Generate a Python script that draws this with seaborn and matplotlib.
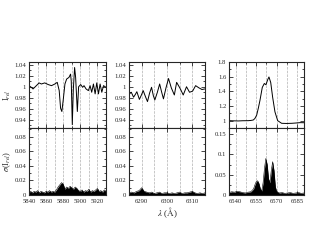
import numpy as np
import pandas as pd
import matplotlib
matplotlib.use("Agg")
import matplotlib.pyplot as plt
from matplotlib.ticker import MultipleLocator, FuncFormatter
import seaborn as sns

# ---------------- data ----------------
# Panel 1 : He I 5876 / Na D region
wl1 = [5840, 5842.7, 5844.7, 5848.6, 5851.8, 5854.5, 5858.4, 5862.4, 5866.3, 5870.2,
       5873.0, 5875.3, 5876.9, 5878.4, 5880.0, 5882.0, 5884.0, 5886.7, 5888.6, 5889.4,
       5890.6, 5891.8, 5893.3, 5894.5, 5896.5, 5898.0, 5900.4, 5902.7, 5904.3, 5906.7,
       5909.4, 5911.4, 5913.3, 5915.3, 5917.3, 5919.2, 5921.2, 5923.1, 5925.1, 5927.1, 5930]
flux1 = [1.002, 0.999, 0.996, 1.002, 1.007, 1.005, 1.007, 1.004, 1.002, 1.005,
         1.008, 0.993, 0.961, 0.955, 0.976, 1.005, 1.014, 1.017, 1.023, 1.010,
         0.931, 0.995, 1.035, 1.017, 0.955, 1.000, 1.004, 0.999, 1.002, 0.996,
         0.993, 1.002, 0.990, 1.005, 0.987, 1.007, 0.987, 1.005, 0.990, 1.002, 0.999]
wl1s = [5840, 5842, 5844, 5846, 5848, 5850, 5852, 5854, 5856, 5858, 5860, 5862, 5864,
        5866, 5868, 5870, 5872, 5874, 5876, 5878, 5880, 5882, 5884, 5886, 5888, 5890,
        5892, 5894, 5896, 5898, 5900, 5902, 5904, 5906, 5908, 5910, 5912, 5914, 5916,
        5918, 5920, 5922, 5924, 5926, 5928, 5930]
sig1 = [0.004, 0.005, 0.003, 0.005, 0.004, 0.006, 0.003, 0.005, 0.004, 0.003, 0.005, 0.004, 0.006,
        0.004, 0.005, 0.004, 0.007, 0.011, 0.014, 0.017, 0.015, 0.008, 0.011, 0.009, 0.012, 0.010,
        0.008, 0.011, 0.009, 0.006, 0.005, 0.007, 0.004, 0.006, 0.005, 0.008, 0.004, 0.006, 0.005,
        0.007, 0.009, 0.005, 0.006, 0.004, 0.007, 0.005]

# Panel 2 : 6300 region
wl2 = [6285.2, 6285.9, 6286.8, 6287.5, 6288.1, 6289.1, 6289.9, 6290.6, 6291.5, 6292.3,
       6293.1, 6293.9, 6294.6, 6295.2, 6296.2, 6297.1, 6297.9, 6298.6, 6299.6, 6300.6,
       6301.7, 6302.9, 6303.8, 6304.8, 6305.5, 6306.4, 6307.7, 6308.9, 6310.1, 6311.3,
       6312.6, 6313.8, 6314.9]
flux2 = [0.987, 0.990, 0.981, 0.986, 0.991, 0.977, 0.985, 0.993, 0.982, 0.973,
         0.988, 0.999, 0.984, 0.976, 0.990, 1.005, 0.990, 0.978, 0.998, 1.015,
         0.998, 0.985, 1.008, 1.000, 0.994, 0.985, 1.000, 0.990, 0.992, 1.002,
         0.998, 0.995, 0.996]
wl2s = [6285, 6286, 6287, 6288, 6289, 6290, 6291, 6292, 6293, 6294, 6295, 6296, 6297,
        6298, 6299, 6300, 6301, 6302, 6303, 6304, 6305, 6306, 6307, 6308, 6309, 6310,
        6311, 6312, 6313, 6314, 6315]
sig2 = [0.003, 0.004, 0.003, 0.005, 0.006, 0.010, 0.005, 0.004, 0.003, 0.004, 0.002, 0.003, 0.004,
        0.002, 0.003, 0.003, 0.002, 0.003, 0.002, 0.003, 0.004, 0.002, 0.003, 0.003, 0.004, 0.005,
        0.003, 0.002, 0.003, 0.002, 0.003]

# Panel 3 : H-alpha region
wl3 = [6535, 6538, 6541.8, 6545, 6549.2, 6551, 6552.8, 6554, 6555.3, 6556.5, 6557.7,
       6559.4, 6560.9, 6562.1, 6563.4, 6564.3, 6565.6, 6567.0, 6568.7, 6570.7, 6573.6,
       6577, 6581, 6584, 6587, 6590]
flux3 = [1.000, 0.998, 0.996, 0.999, 1.000, 1.003, 1.009, 1.030, 1.076, 1.170, 1.276,
         1.453, 1.507, 1.490, 1.560, 1.596, 1.520, 1.320, 1.120, 1.000, 0.964,
         0.962, 0.964, 0.968, 0.973, 0.972]
wl3s = [6535, 6537, 6539, 6541, 6543, 6545, 6547, 6549, 6551, 6553, 6554, 6555, 6556,
        6557, 6558, 6559, 6560, 6561, 6562, 6563, 6564, 6565, 6566, 6567, 6568, 6569,
        6570, 6572, 6574, 6576, 6578, 6580, 6582, 6584, 6586, 6588, 6590]
sig3 = [0.006, 0.008, 0.007, 0.009, 0.008, 0.006, 0.005, 0.007, 0.008, 0.015, 0.025, 0.033, 0.035,
        0.028, 0.015, 0.010, 0.030, 0.065, 0.090, 0.075, 0.040, 0.030, 0.060, 0.082, 0.060, 0.020,
        0.008, 0.005, 0.006, 0.004, 0.005, 0.006, 0.004, 0.005, 0.006, 0.004, 0.005]

panels = [
    dict(wl=wl1, fl=flux1, ws=wl1s, sg=sig1, xlim=(5840, 5930), xmaj=20, xgrid=10,
         ylim_t=(0.925, 1.045), ymaj_t=0.02, ymin_t=0.01,
         ylim_b=(0, 0.092), ymaj_b=0.02, ymin_b=0.01),
    dict(wl=wl2, fl=flux2, ws=wl2s, sg=sig2, xlim=(6285, 6315), xmaj=10, xgrid=5,
         ylim_t=(0.925, 1.045), ymaj_t=0.02, ymin_t=0.01,
         ylim_b=(0, 0.092), ymaj_b=0.02, ymin_b=0.01),
    dict(wl=wl3, fl=flux3, ws=wl3s, sg=sig3, xlim=(6535, 6590), xmaj=15, xgrid=7.5,
         ylim_t=(0.9, 1.8), ymaj_t=0.2, ymin_t=0.1,
         ylim_b=(0, 0.165), ymaj_b=0.05, ymin_b=0.025),
]

# ---------------- style ----------------
sns.set_style("ticks")
plt.rcParams['font.family'] = ['Liberation Serif', 'DejaVu Serif']
plt.rcParams['mathtext.fontset'] = 'stix'
fs = 4.8

fig = plt.figure(figsize=(3.17, 2.45), dpi=100)
lefts = [29 / 317, 129 / 317, 229 / 317]
widths = [77 / 317, 76 / 317, 75 / 317]
bot_b, h_b = 1 - 195 / 245, 67 / 245
bot_t, h_t = 1 - 128 / 245, 66 / 245

g = lambda v, p: "%g" % v

for i, p in enumerate(panels):
    axt = fig.add_axes([lefts[i], bot_t, widths[i], h_t])
    axb = fig.add_axes([lefts[i], bot_b, widths[i], h_b])
    df_t = pd.DataFrame({"wl": p["wl"], "flux": p["fl"]})
    df_b = pd.DataFrame({"wl": p["ws"], "sig": p["sg"]})
    sns.lineplot(data=df_t, x="wl", y="flux", ax=axt, color="black", lw=0.7)
    sns.lineplot(data=df_b, x="wl", y="sig", ax=axb, color="black", lw=0.4)
    axb.fill_between(df_b["wl"], 0, df_b["sig"], color="black", lw=0)

    for ax, yl, ymaj, ymin in [(axt, p["ylim_t"], p["ymaj_t"], p["ymin_t"]),
                               (axb, p["ylim_b"], p["ymaj_b"], p["ymin_b"])]:
        ax.set_xlim(*p["xlim"])
        ax.set_ylim(*yl)
        ax.xaxis.set_major_locator(MultipleLocator(p["xmaj"]))
        ax.xaxis.set_minor_locator(MultipleLocator(p["xgrid"]))
        ax.yaxis.set_major_locator(MultipleLocator(ymaj))
        ax.yaxis.set_minor_locator(MultipleLocator(ymin))
        ax.yaxis.set_major_formatter(FuncFormatter(g))
        ax.xaxis.set_major_formatter(FuncFormatter(g))
        ax.tick_params(which="both", direction="in", top=True, right=True,
                       labelsize=fs, width=0.6)
        ax.tick_params(axis="y", pad=2)
        ax.tick_params(axis="x", pad=3)
        ax.tick_params(which="major", length=3)
        ax.tick_params(which="minor", length=1.5)
        ax.grid(True, which="both", axis="x", ls="--", lw=0.5, color="#b0b0b0")
        for s in ax.spines.values():
            s.set_linewidth(0.8)
        ax.set_xlabel("")
        ax.set_ylabel("")
    axt.tick_params(labelbottom=False)
    if i == 0:
        axt.set_ylabel(r"I$_{rel}$", fontsize=fs + 1.2, labelpad=1)
        axb.set_ylabel(r"$\sigma$(I$_{rel}$)", fontsize=fs + 1.2, labelpad=1)
    if i == 1:
        axb.set_xlabel(r"$\lambda$ ($\rm\AA$)", fontsize=fs + 1.8, labelpad=1)

fig.savefig("out.png", dpi=100)
